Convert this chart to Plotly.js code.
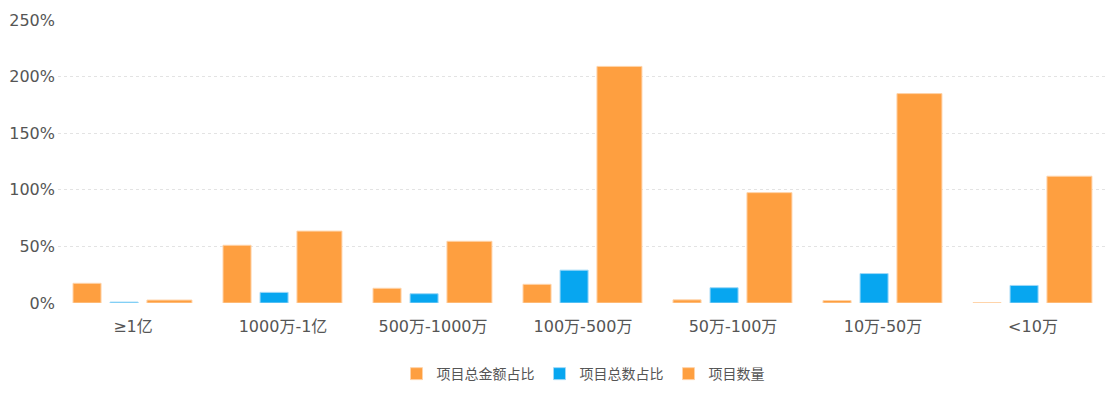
<!DOCTYPE html>
<html>
<head>
<meta charset="utf-8">
<script src="https://cdn.plot.ly/plotly-3.0.1.min.js"></script>
<style>html,body{margin:0;padding:0;background:#fff;}#chart{width:1109px;height:394px;}</style>
</head>
<body>
<div id="chart"></div>
<script>
const categories = ["≥1亿", "1000万-1亿", "500万-1000万", "100万-500万", "50万-100万", "10万-50万", "<10万"];
const seriesNames = ["项目总金额占比", "项目总数占比", "项目数量"];
const amountShare = [17.4, 51, 13, 16.5, 2.8, 2.2, 0.3];
const countShare = [0.8, 9.4, 8.2, 29, 13.5, 26, 15.5];
const projectCount = [2.6, 63.5, 54.5, 209, 97.5, 185, 112];
const yTicks = [0, 50, 100, 150, 200, 250];
const yTickText = yTicks.map(v => v + '%');

const orange = '#FE9F40';
const blue = '#07A6F0';

function bar(name, y, color, lineColor, offset, width) {
  return {
    type: 'bar', name: name, x: categories, y: y,
    offset: offset, width: width,
    marker: {color: color, line: {color: lineColor, width: 1}},
    hoverinfo: 'skip'
  };
}

const data = [
  bar(seriesNames[0], amountShare, orange, '#FFD3A8', -0.4, 0.187),
  bar(seriesNames[1], countShare, blue, '#9ED8F7', -0.153, 0.187),
  bar(seriesNames[2], projectCount, orange, '#FFD3A8', 0.093, 0.3)
];

const tickFont = {family: '"DejaVu Sans", "Noto Sans CJK SC", sans-serif', size: 16, color: '#555'};

const layout = {
  width: 1109, height: 394,
  margin: {l: 58, r: 1, t: 20, b: 91},
  paper_bgcolor: '#fff', plot_bgcolor: '#fff',
  barmode: 'overlay',
  font: {family: '"Noto Sans CJK SC", "Noto Sans", sans-serif', color: '#555', size: 13},
  showlegend: true,
  legend: {
    orientation: 'h', x: 0.5, xanchor: 'center', y: -0.251, yanchor: 'middle',
    font: {family: '"Noto Sans CJK SC", sans-serif', size: 14, color: '#555'},
    itemwidth: 30, traceorder: 'normal'
  },
  xaxis: {
    type: 'category', range: [-0.5, 6.5], showgrid: false, zeroline: false,
    showline: false, ticks: '', tickfont: tickFont, ticklabelstandoff: 12, fixedrange: true
  },
  yaxis: {
    range: [0, 250], tickmode: 'array', tickvals: yTicks, ticktext: yTickText, showgrid: true,
    gridcolor: '#e3e3e3', griddash: 'dot', gridwidth: 1, zeroline: false,
    showline: false, ticks: '', tickfont: tickFont, ticklabelstandoff: 2,
    fixedrange: true
  }
};

Plotly.newPlot('chart', data, layout, {displayModeBar: false, staticPlot: true});
</script>
</body>
</html>
